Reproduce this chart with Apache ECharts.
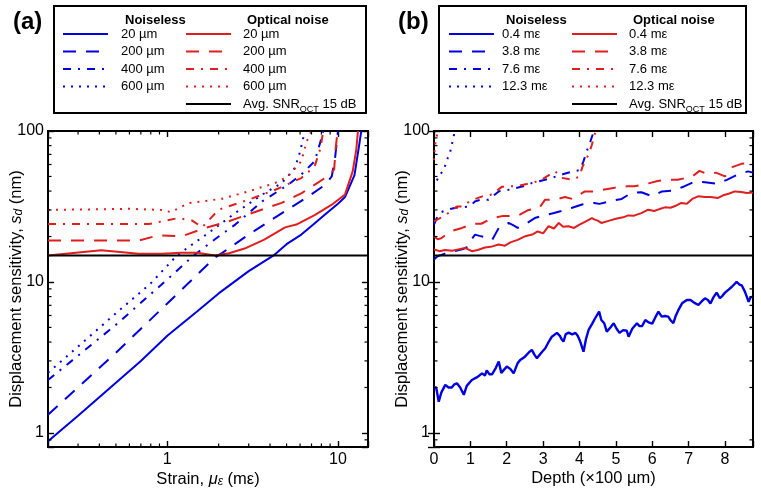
<!DOCTYPE html>
<html><head><meta charset="utf-8">
<script src="https://cdn.jsdelivr.net/npm/echarts@6/dist/echarts.min.js"></script>
<style>html,body{margin:0;padding:0;background:#fff}#c{width:761px;height:494px}</style>
</head><body><div id="c"></div>
<script>
// ---------- Panel (a): strain (mε) vs displacement sensitivity (nm) ----------
const A_NL_20  = [[0.2,0.88],[0.3,1.3],[0.5,2.15],[0.7,3.0],[1,4.4],[1.5,6.4],[2,8.4],[3,11.8],[4.2,15],[5,17.8],[6.1,20.6],[7,23.5],[8.4,28],[10,33],[11,36.5],[12.5,51],[13.3,80],[13.7,100]];
const A_NL_200 = [[0.2,1.32],[0.5,3.4],[1,7.2],[1.5,11.2],[1.9,14.5],[2.1,15.6],[3,20.6],[4.7,28.6],[6.7,36.8],[8.4,44],[9.2,50],[9.6,65],[10,100]];
const A_NL_400 = [[0.2,2.24],[0.5,5.2],[1,10.4],[1.43,15],[2,20],[2.5,24],[3.6,34.2],[5.1,44],[6.1,51.5],[7.3,63],[7.9,85],[8.2,100]];
const A_NL_600 = [[0.2,2.5],[0.5,6.2],[0.8,9.8],[1.14,15],[1.74,21.1],[2.5,28.6],[3.6,37.9],[4.7,45.3],[5.6,57],[6.0,73],[6.4,100]];
const A_ON_20  = [[0.2,15],[0.41,16.2],[0.68,15.4],[0.93,15.4],[1.2,15.6],[1.5,15.6],[1.9,15],[2.3,15.5],[2.9,16.8],[3.7,19.1],[4.9,23],[5.7,24],[7.3,27.7],[9.2,32.5],[11,38],[12.2,54],[12.8,75],[13.1,100]];
const A_ON_200 = [[0.2,18.8],[0.68,18.8],[0.89,20.4],[1.22,20.1],[1.67,22.8],[2.28,25.2],[3.27,29.1],[4.68,33.4],[6.13,38.8],[8.4,48.8],[9.5,55.5],[9.7,77],[9.95,100]];
const A_ON_400 = [[0.2,24.2],[0.78,24.2],[1.16,26.5],[1.4,25.5],[1.6,23],[2.0,30.1],[3.0,35.1],[4.3,40.8],[6.1,48.8],[7.3,58.4],[7.9,77],[8.2,100]];
const A_ON_600 = [[0.2,30],[0.6,30.5],[0.93,30],[1.05,29],[1.33,33.3],[2.1,35.6],[3.0,39.9],[4.3,45.3],[5.1,50],[6.1,63],[6.55,85],[7.0,100]];
const A_X_RANGE = [0.2, 15];
const Y_RANGE = [0.807, 100];

// ---------- Panel (b): depth (x100 µm) vs displacement sensitivity (nm) ----------
const B_NL_04 = [[0,2.0],[0.06,2.0],[0.13,1.61],[0.2,1.85],[0.31,2.08],[0.4,2.0],[0.49,2.0],[0.56,2.1],[0.63,2.13],[0.72,2.0],[0.82,1.79],[0.9,2.05],[1.04,2.24],[1.2,2.35],[1.32,2.48],[1.4,2.4],[1.45,2.6],[1.52,2.45],[1.6,2.45],[1.7,2.7],[1.78,2.97],[1.85,2.5],[2.0,2.75],[2.1,2.65],[2.19,2.48],[2.3,2.9],[2.37,3.04],[2.5,3.2],[2.6,3.4],[2.69,3.55],[2.76,3.3],[2.83,3.12],[2.95,3.4],[3.06,3.64],[3.15,4.0],[3.24,4.34],[3.38,4.6],[3.46,4.4],[3.5,4.2],[3.56,4.03],[3.62,4.5],[3.7,4.62],[3.8,4.5],[3.89,4.6],[3.95,4.4],[4.02,4.03],[4.11,3.45],[4.18,4.2],[4.25,4.81],[4.35,5.3],[4.43,5.75],[4.54,6.36],[4.6,5.6],[4.68,5.33],[4.75,4.69],[4.85,5.0],[4.94,5.33],[5.02,4.9],[5.1,4.6],[5.2,4.8],[5.3,4.75],[5.35,4.34],[5.45,4.9],[5.58,5.33],[5.65,5.1],[5.72,5.1],[5.81,5.6],[5.9,5.4],[6.0,5.3],[6.08,5.8],[6.17,6.36],[6.26,5.9],[6.35,5.95],[6.44,5.9],[6.5,5.6],[6.58,5.33],[6.65,6.0],[6.72,6.53],[6.82,7.22],[6.95,7.6],[7.05,7.6],[7.15,7.3],[7.27,7.04],[7.35,7.4],[7.45,7.8],[7.53,7.6],[7.6,7.2],[7.68,7.9],[7.77,8.5],[7.86,7.8],[7.93,8.1],[8.0,8.5],[8.1,8.9],[8.19,9.3],[8.32,10.0],[8.4,9.6],[8.46,9.5],[8.55,8.6],[8.65,7.4],[8.7,7.9],[8.77,8.0]];
const B_NL_38 = [[0,14.1],[0.1,14.8],[0.3,15.4],[0.5,15.9],[0.8,16.5],[0.9,17],[0.95,18.1],[1.13,20.6],[1.25,20.2],[1.4,19.8],[1.6,19.0],[1.78,22.8],[2.05,24.6],[2.2,23.6],[2.3,22.8],[2.5,24],[2.77,26.5],[2.97,27.4],[3.3,28.6],[3.5,29.5],[3.8,31],[4.07,32.6],[4.4,33.4],[4.55,32.9],[4.88,34.5],[5.16,35.5],[5.43,38.9],[5.7,39.3],[6.0,36.9],[6.27,39.8],[6.57,40.2],[6.85,42.7],[7.17,46.3],[7.45,45.8],[7.8,44.6],[8.05,47.5],[8.35,51.5],[8.63,54],[8.77,53]];
const B_NL_76 = [[0,24],[0.1,27.4],[0.2,29],[0.36,30.1],[0.6,31],[0.98,31.6],[1.13,34.2],[1.27,35],[1.5,35],[1.78,39.8],[2.05,40.8],[2.55,43.6],[2.7,45.3],[3.15,48.2],[3.56,51.9],[3.88,54.4],[4.0,55],[4.11,63],[4.2,73.5],[4.3,85.3],[4.39,99],[4.4,100]];
const B_NL_123 = [[0.08,47],[0.13,50],[0.27,55.5],[0.36,64.5],[0.45,73.5],[0.49,81],[0.54,92],[0.57,100]];
const B_ON_04 = [[0,16.4],[0.15,16.0],[0.3,16.3],[0.5,16.1],[0.7,16.5],[0.85,16.8],[1.04,16.0],[1.2,16.3],[1.4,16.9],[1.6,17.2],[1.78,17.7],[1.95,17.4],[2.1,18.3],[2.3,19.0],[2.51,20.1],[2.7,20.6],[2.85,21.6],[3.0,21.0],[3.15,23.4],[3.3,22.6],[3.43,24.6],[3.55,23.2],[3.7,23.4],[3.85,22.8],[4.0,24.0],[4.15,25.0],[4.34,26.5],[4.42,25.9],[4.5,25.5],[4.6,24.6],[4.8,25.4],[5.0,26.2],[5.2,26.8],[5.34,27.6],[5.5,27.5],[5.7,28.6],[5.89,30.1],[6.05,29.5],[6.2,30.4],[6.35,31.2],[6.5,31.0],[6.65,32.0],[6.8,33.4],[6.95,33.0],[7.1,35.5],[7.26,36.9],[7.45,36.5],[7.6,36.6],[7.81,36.0],[7.95,37.5],[8.1,38.4],[8.27,39.8],[8.45,39.5],[8.6,38.8],[8.77,39.2]];
const B_ON_38 = [[0,20.1],[0.1,19.2],[0.2,19.5],[0.44,21.6],[0.77,22.8],[1.06,24.3],[1.3,24.3],[1.6,26.5],[1.9,27.4],[2.0,27.4],[2.3,27.4],[2.6,30],[2.9,31],[3.05,35],[3.3,35],[3.6,36.5],[3.8,35.5],[4.15,39.8],[4.4,39.8],[4.65,40.8],[4.97,42.1],[5.3,43],[5.5,43],[5.9,45],[6.15,46.6],[6.4,47.5],[6.7,47.5],[7.1,50],[7.3,54.4],[7.5,52],[7.75,53],[8.0,50],[8.2,57.6],[8.45,60.6],[8.6,61],[8.77,58]];
const B_ON_76 = [[0,25.2],[0.1,26],[0.3,27.5],[0.63,31.6],[0.77,31.6],[1.0,34.5],[1.33,36.9],[1.6,38],[1.87,42.8],[2.0,42.8],[2.3,43.3],[2.7,45.3],[2.95,47.5],[3.33,54.2],[3.5,49],[3.8,47.5],[4.0,50],[4.07,56.9],[4.15,63],[4.25,69.7],[4.34,81],[4.43,97],[4.45,100]];
const B_ON_123 = [[0,64],[0.02,75],[0.05,88],[0.12,100]];
const B_X_RANGE = [0, 8.77];

// reference level (Avg. SNR_OCT 15 dB)
const AVG_LEVEL = [15];

// legend texts
const A_LABELS = ['20 µm', '200 µm', '400 µm', '600 µm'];
const B_LABELS = ['0.4 mε', '3.8 mε', '7.6 mε', '12.3 mε'];
const HEADERS = ['Noiseless', 'Optical noise'];

// tick values
const LOG_MINOR_Y = [0.9,2,3,4,5,6,7,8,9,20,30,40,50,60,70,80,90];
const LOG_MINOR_XA = [0.3,0.4,0.5,0.6,0.7,0.8,0.9,2,3,4,5,6,7,8,9];

const FONT = 'Liberation Sans, Arial, Helvetica, sans-serif';
const BLUE = '#0000e0', RED = '#e01e1e';
const DASHES = ['solid', [13, 10], [8, 7, 2, 7], [2, 6]];

const chart = echarts.init(document.getElementById('c'));

const labelText = {};
const series = [];
function addLine(id, label, data, color, dash, g) {
  labelText[id] = label;
  series.push({
    type: 'line', name: id, data: data, xAxisIndex: g * 2, yAxisIndex: g * 2,
    symbol: 'none', showSymbol: false, animation: false,
    lineStyle: { color: color, width: 2, type: dash, cap: 'butt' },
    itemStyle: { color: color }
  });
}
const aNL = [A_NL_20, A_NL_200, A_NL_400, A_NL_600];
const aON = [A_ON_20, A_ON_200, A_ON_400, A_ON_600];
const bNL = [B_NL_04, B_NL_38, B_NL_76, B_NL_123];
const bON = [B_ON_04, B_ON_38, B_ON_76, B_ON_123];
for (let i = 0; i < 4; i++) addLine('a_nl_' + i, A_LABELS[i], aNL[i], BLUE, DASHES[i], 0);
for (let i = 0; i < 4; i++) addLine('a_on_' + i, A_LABELS[i], aON[i], RED, DASHES[i], 0);
for (let i = 0; i < 4; i++) addLine('b_nl_' + i, B_LABELS[i], bNL[i], BLUE, DASHES[i], 1);
for (let i = 0; i < 4; i++) addLine('b_on_' + i, B_LABELS[i], bON[i], RED, DASHES[i], 1);
const AVG_TXT = '{n|Avg. SNR}{s|OCT}{n| 15 dB}';
addLine('a_avg', AVG_TXT, [[A_X_RANGE[0], AVG_LEVEL[0]], [A_X_RANGE[1], AVG_LEVEL[0]]], '#000', 'solid', 0);
addLine('b_avg', AVG_TXT, [[B_X_RANGE[0], AVG_LEVEL[0]], [B_X_RANGE[1], AVG_LEVEL[0]]], '#000', 'solid', 1);
series.forEach(s => { if (s.name === 'b_nl_0') s.lineStyle.width = 2.4; });

// minor ticks drawn through the axes' own coordinate system
function tickSeries(g, xTicks, yTicks, xr, yr) {
  const data = [];
  xTicks.forEach(v => data.push([v, yr[0], 0]));
  yTicks.forEach(v => data.push([xr[0], v, 1]));
  const L = 3.5, st = { stroke: '#000', lineWidth: 1.2 };
  return {
    type: 'custom', xAxisIndex: g * 2, yAxisIndex: g * 2, silent: true, clip: false, z: 5,
    animation: false, data: data,
    renderItem: function (params, api) {
      const k = api.value(2);
      if (k === 0) {
        const v = api.value(0);
        const p0 = api.coord([v, yr[0]]), p1 = api.coord([v, yr[1]]);
        return { type: 'group', children: [
          { type: 'line', shape: { x1: p0[0], y1: p0[1], x2: p0[0], y2: p0[1] - L }, style: st },
          { type: 'line', shape: { x1: p1[0], y1: p1[1], x2: p1[0], y2: p1[1] + L }, style: st }] };
      } else {
        const v = api.value(1);
        const p0 = api.coord([xr[0], v]), p1 = api.coord([xr[1], v]);
        return { type: 'group', children: [
          { type: 'line', shape: { x1: p0[0], y1: p0[1], x2: p0[0] + L, y2: p0[1] }, style: st },
          { type: 'line', shape: { x1: p1[0], y1: p1[1], x2: p1[0] - L, y2: p1[1] }, style: st }] };
      }
    }
  };
}
series.push(tickSeries(0, LOG_MINOR_XA, LOG_MINOR_Y, A_X_RANGE, Y_RANGE));
series.push(tickSeries(1, [], LOG_MINOR_Y, B_X_RANGE, Y_RANGE));

function powLabel(v) {
  const l = Math.log10(v);
  return Math.abs(l - Math.round(l)) < 1e-6 ? String(Math.round(v)) : '';
}
function intLabel(v) { return Math.abs(v - Math.round(v)) < 1e-6 ? String(Math.round(v)) : ''; }

const majorTick = { show: true, inside: true, length: 6, lineStyle: { color: '#000', width: 1.4 } };
const lab = { color: '#000', fontSize: 16, fontFamily: FONT };
const nameRich = {
  n: { fontSize: 16.5, fontFamily: FONT, color: '#000' },
  i: { fontSize: 16.5, fontFamily: FONT, color: '#000', fontStyle: 'italic' },
  sub: { fontSize: 12, fontFamily: FONT, color: '#000', fontStyle: 'italic', padding: [6, 0, 0, 0] }
};
const YNAME = '{n|Displacement sensitivity, }{i|s}{sub|d}{n| (nm)}';

function xAx(g, type, range, pos, extra) {
  return Object.assign({
    gridIndex: g, type: type, min: range[0], max: range[1], position: pos,
    axisLine: { show: false }, axisTick: majorTick, splitLine: { show: false },
    axisLabel: { show: false }
  }, extra || {});
}
function yAx(g, pos, extra) {
  return Object.assign({
    gridIndex: g, type: 'log', min: Y_RANGE[0], max: Y_RANGE[1], position: pos,
    axisLine: { show: false }, axisTick: majorTick, splitLine: { show: false },
    axisLabel: { show: false }
  }, extra || {});
}

const legendBase = {
  orient: 'vertical', top: 27, itemWidth: 45, itemHeight: 14, itemGap: 3.5, padding: 0,
  selectedMode: false,
  itemStyle: { opacity: 0 },
  formatter: name => labelText[name]
};
function legendText(pad) {
  return {
    fontSize: 13, fontFamily: FONT, color: '#000', lineHeight: 14, padding: [0, 0, 0, pad],
    rich: {
      n: { fontSize: 13, fontFamily: FONT, color: '#000', lineHeight: 14, verticalAlign: 'bottom' },
      s: { fontSize: 9, fontFamily: FONT, color: '#000', lineHeight: 9, verticalAlign: 'bottom', padding: [0, 0, -3, 0] }
    }
  };
}

const option = {
  animation: false,
  backgroundColor: '#fff',
  title: [
    { text: '(a)', left: 8, top: 5, textStyle: { fontSize: 24, fontWeight: 'bold', fontFamily: FONT, color: '#000' } },
    { text: '(b)', left: 393, top: 5, textStyle: { fontSize: 24, fontWeight: 'bold', fontFamily: FONT, color: '#000' } },
    { text: HEADERS[0], left: 120, top: 9, textStyle: { fontSize: 13, fontWeight: 'bold', fontFamily: FONT, color: '#000' } },
    { text: HEADERS[1], left: 242, top: 9, textStyle: { fontSize: 13, fontWeight: 'bold', fontFamily: FONT, color: '#000' } },
    { text: HEADERS[0], left: 501, top: 9, textStyle: { fontSize: 13, fontWeight: 'bold', fontFamily: FONT, color: '#000' } },
    { text: HEADERS[1], left: 628, top: 9, textStyle: { fontSize: 13, fontWeight: 'bold', fontFamily: FONT, color: '#000' } }
  ],
  graphic: [
    { type: 'rect', shape: { x: 54, y: 6, width: 312, height: 107 }, style: { fill: 'none', stroke: '#000', lineWidth: 2 } },
    { type: 'rect', shape: { x: 439, y: 6, width: 307, height: 107 }, style: { fill: 'none', stroke: '#000', lineWidth: 2 } }
  ],
  legend: [
    Object.assign({}, legendBase, { left: 62, data: ['a_nl_0', 'a_nl_1', 'a_nl_2', 'a_nl_3'], textStyle: legendText(8) }),
    Object.assign({}, legendBase, { left: 185, data: ['a_on_0', 'a_on_1', 'a_on_2', 'a_on_3', 'a_avg'], textStyle: legendText(7) }),
    Object.assign({}, legendBase, { left: 448, data: ['b_nl_0', 'b_nl_1', 'b_nl_2', 'b_nl_3'], textStyle: legendText(3) }),
    Object.assign({}, legendBase, { left: 571, data: ['b_on_0', 'b_on_1', 'b_on_2', 'b_on_3', 'b_avg'], textStyle: legendText(7) })
  ],
  grid: [
    { left: 48, top: 131, width: 320, height: 316, show: true, borderColor: '#000', borderWidth: 2, backgroundColor: 'transparent' },
    { left: 434, top: 131, width: 319, height: 316, show: true, borderColor: '#000', borderWidth: 2, backgroundColor: 'transparent' }
  ],
  xAxis: [
    xAx(0, 'log', A_X_RANGE, 'bottom', {
      axisLabel: Object.assign({ show: true, margin: 5, formatter: powLabel }, lab),
      name: '{n|Strain, }{i|μ}{sub|ε}{n| (mε)}', nameLocation: 'middle', nameGap: 23, nameMoveOverlap: false,
      nameTextStyle: { rich: nameRich }
    }),
    xAx(0, 'log', A_X_RANGE, 'top'),
    xAx(1, 'value', B_X_RANGE, 'bottom', {
      interval: 1,
      axisLabel: Object.assign({ show: true, margin: 5, formatter: intLabel }, lab),
      name: 'Depth (×100 µm)', nameLocation: 'middle', nameGap: 23, nameMoveOverlap: false,
      nameTextStyle: { fontSize: 16.5, fontFamily: FONT, color: '#000' }
    }),
    xAx(1, 'value', B_X_RANGE, 'top', { interval: 1 })
  ],
  yAxis: [
    yAx(0, 'left', {
      axisLabel: Object.assign({ show: true, margin: 4, formatter: powLabel }, lab),
      name: YNAME, nameLocation: 'middle', nameGap: 23, nameMoveOverlap: false, nameTextStyle: { rich: nameRich }
    }),
    yAx(0, 'right'),
    yAx(1, 'left', {
      axisLabel: Object.assign({ show: true, margin: 4, formatter: powLabel }, lab),
      name: YNAME, nameLocation: 'middle', nameGap: 23, nameMoveOverlap: false, nameTextStyle: { rich: nameRich }
    }),
    yAx(1, 'right')
  ],
  series: series
};
chart.setOption(option);
</script></body></html>
